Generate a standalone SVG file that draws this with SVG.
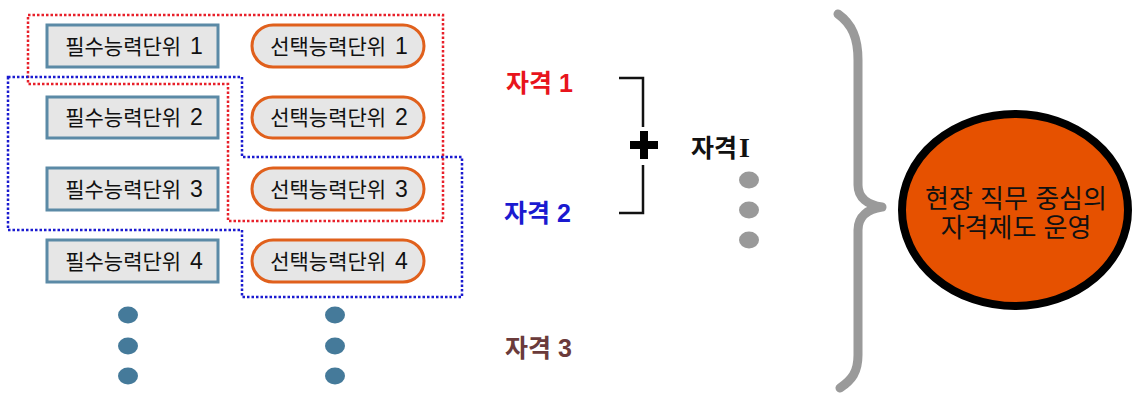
<svg xmlns="http://www.w3.org/2000/svg" width="1132" height="399" viewBox="0 0 1132 399">
<style>
  text { font-family: "Liberation Sans", "Noto Sans CJK KR", sans-serif; }
  .req rect { fill: #e6e6e6; stroke: #5b8aa6; stroke-width: 3; }
  .opt rect { fill: #e6e6e6; stroke: #e0601c; stroke-width: 3; }
  .lbl { font-size: 21px; fill: #111; text-anchor: middle; }
  .n { font-size: 23px; }
  .dotb { fill: #457a9a; }
  .dotg { fill: #999; }
  .q { font-size: 25px; font-weight: bold; }
</style>
<rect width="1132" height="399" fill="#fff"/>

<g id="req1" class="req"><rect x="47" y="25" width="171" height="42"/><text class="lbl" x="134" y="54">필수능력단위 <tspan class="n" dx="3">1</tspan></text></g>
<g id="req2" class="req"><rect x="47" y="97" width="171" height="41"/><text class="lbl" x="134" y="125">필수능력단위 <tspan class="n" dx="3">2</tspan></text></g>
<g id="req3" class="req"><rect x="47" y="168" width="171" height="42"/><text class="lbl" x="134" y="197">필수능력단위 <tspan class="n" dx="3">3</tspan></text></g>
<g id="req4" class="req"><rect x="47" y="240" width="171" height="42"/><text class="lbl" x="134" y="269">필수능력단위 <tspan class="n" dx="3">4</tspan></text></g>

<g id="opt1" class="opt"><rect x="252" y="25" width="172" height="42" rx="21"/><text class="lbl" x="339" y="54">선택능력단위 <tspan class="n" dx="3">1</tspan></text></g>
<g id="opt2" class="opt"><rect x="252" y="97" width="172" height="41" rx="20.5"/><text class="lbl" x="339" y="125">선택능력단위 <tspan class="n" dx="3">2</tspan></text></g>
<g id="opt3" class="opt"><rect x="252" y="168" width="172" height="42" rx="21"/><text class="lbl" x="339" y="197">선택능력단위 <tspan class="n" dx="3">3</tspan></text></g>
<g id="opt4" class="opt"><rect x="252" y="240" width="172" height="42" rx="21"/><text class="lbl" x="339" y="269">선택능력단위 <tspan class="n" dx="3">4</tspan></text></g>

<g id="groups" fill="none" stroke-width="2.5" stroke-dasharray="2.5 2">
  <path d="M28,15 H443 V221 H228 V84 H28 Z" stroke="#e8202a"/>
  <path d="M8,77 H242 V157 H462 V297 H242 V230 H8 Z" stroke="#1a1ad0"/>
</g>

<g id="dots-left">
  <ellipse class="dotb" cx="128" cy="315" rx="10" ry="8.5"/>
  <ellipse class="dotb" cx="128" cy="346" rx="10" ry="8.5"/>
  <ellipse class="dotb" cx="128" cy="376" rx="10" ry="8.5"/>
  <ellipse class="dotb" cx="335" cy="315" rx="10" ry="8.5"/>
  <ellipse class="dotb" cx="335" cy="346" rx="10" ry="8.5"/>
  <ellipse class="dotb" cx="335" cy="376" rx="10" ry="8.5"/>
</g>

<g id="q1"><text class="q" x="506" y="92" fill="#e8141c">자격 1</text></g>
<g id="q2"><text class="q" x="504" y="222" fill="#1a1ad0">자격 2</text></g>
<g id="q3"><text class="q" x="505" y="357" fill="#6b3b3b">자격 3</text></g>

<g id="connectors">
  <path d="M619,78 H643 V127 M643,165 V213 H619" fill="none" stroke="#111" stroke-width="2.5"/>
  <rect x="630" y="141" width="28" height="8" fill="#000"/>
  <rect x="640" y="131" width="8" height="28" fill="#000"/>
  <path d="M838,14 C852,24 858,38 858,60 L858,185 C858,198 868,205 882,207 C868,209 858,216 858,230 L858,355 C858,372 852,380 840,388" fill="none" stroke="#9a9a9a" stroke-width="9" stroke-linecap="round" stroke-linejoin="round"/>
</g>

<g id="qI"><text class="q" x="691" y="157" fill="#111">자격<tspan font-family="'Liberation Serif', serif" font-size="28" dx="2">I</tspan></text></g>

<g id="dots-right">
  <ellipse class="dotg" cx="749" cy="180" rx="10" ry="8.5"/>
  <ellipse class="dotg" cx="749" cy="210" rx="10" ry="8.5"/>
  <ellipse class="dotg" cx="749" cy="240" rx="10" ry="8.5"/>
</g>

<g id="result">
  <ellipse cx="1015" cy="210" rx="113" ry="96" fill="#e65100" stroke="#000" stroke-width="8"/>
  <text x="1016" y="208" font-size="26" text-anchor="middle" fill="#111">현장 직무 중심의</text>
  <text x="1016" y="237" font-size="26" text-anchor="middle" fill="#111">자격제도 운영</text>
</g>
</svg>
